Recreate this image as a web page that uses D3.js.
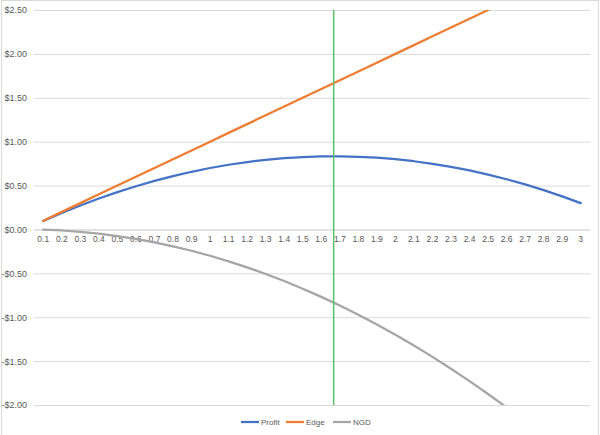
<!DOCTYPE html>
<html>
  <head>
    <meta http-equiv="Content-Type" content="text/html;charset=utf-8"/>
    <script src="https://d3js.org/d3.v7.min.js"></script>
    <style>
      body { margin: 0; background: #fff; }
      text { font-family: "Liberation Sans", Arial, sans-serif; fill: #595959; font-size: 9px; }
    </style>
  </head>
  <body>
    <script type="text/javascript">
        // x categories and series
        const categories = ['0.1','0.2','0.3','0.4','0.5','0.6','0.7','0.8','0.9','1',
                            '1.1','1.2','1.3','1.4','1.5','1.6','1.7','1.8','1.9','2',
                            '2.1','2.2','2.3','2.4','2.5','2.6','2.7','2.8','2.9','3']
        const profit = [0.097,0.188,0.273,0.352,0.425,0.492,0.553,0.608,0.657,0.700,
                        0.737,0.768,0.793,0.812,0.825,0.832,0.833,0.828,0.817,0.800,
                        0.777,0.748,0.713,0.672,0.625,0.572,0.513,0.448,0.377,0.300]
        const edge = [0.1,0.2,0.3,0.4,0.5,0.6,0.7,0.8,0.9,1.0,
                      1.1,1.2,1.3,1.4,1.5,1.6,1.7,1.8,1.9,2.0,
                      2.1,2.2,2.3,2.4,2.5,2.6,2.7,2.8,2.9,3.0]
        const ngd = [-0.003,-0.012,-0.027,-0.048,-0.075,-0.108,-0.147,-0.192,-0.243,-0.300,
                     -0.363,-0.432,-0.507,-0.588,-0.675,-0.768,-0.867,-0.972,-1.083,-1.200,
                     -1.323,-1.452,-1.587,-1.728,-1.875,-2.028,-2.187,-2.352,-2.523,-2.700]
        const yTicks = [2.5, 2, 1.5, 1, 0.5, 0, -0.5, -1, -1.5, -2]
        const markerX = 1.667   // position of the vertical green line (category units)

        const seriesNames = ['Profit', 'Edge', 'NGD']
        const seriesData = [profit, edge, ngd]
        const colors = ['#4472C4', '#ED7D31', '#A5A5A5']

        const width = 600,
              height = 435
        const plotL = 34, plotR = 590, plotT = 10, plotB = 405

        const svg = d3.select('body').append('svg')
            .attr('width', width)
            .attr('height', height)

        // outer frame
        svg.append('rect')
            .attr('x', 1.5).attr('y', 0.5)
            .attr('width', 597).attr('height', 440)
            .attr('fill', 'none')
            .attr('stroke', '#d9d9d9')

        const x = d3.scaleBand().domain(categories).range([plotL, plotR])
        const y = d3.scaleLinear().domain([-2, 2.5]).range([plotB, plotT])
        const xc = d => x(d) + x.bandwidth() / 2

        // gridlines + y labels
        const yAxis = svg.append('g')
            .attr('transform', 'translate(' + plotL + ',0)')
            .call(d3.axisLeft(y).tickValues(yTicks).tickSize(-(plotR - plotL)).tickPadding(7)
                .tickFormat(v => (v < 0 ? '-$' : '$') + Math.abs(v).toFixed(2)))
        yAxis.select('.domain').remove()
        yAxis.selectAll('line').attr('stroke', '#d9d9d9')
        yAxis.selectAll('text').style('font-size', '9px').attr('fill', '#6a6a6a')

        // category labels along zero line
        const xAxis = svg.append('g')
            .attr('transform', 'translate(0,' + y(0) + ')')
            .call(d3.axisBottom(x).tickSize(0).tickPadding(7))
        xAxis.select('.domain').attr('stroke', '#d9d9d9')
        xAxis.selectAll('text').style('font-size', '8.5px').attr('fill', '#6a6a6a')

        svg.append('clipPath').attr('id', 'plot')
            .append('rect')
            .attr('x', plotL).attr('y', plotT)
            .attr('width', plotR - plotL).attr('height', plotB - plotT)

        const line = d3.line()
            .x((d, i) => xc(categories[i]))
            .y(d => y(d))

        svg.append('g').attr('clip-path', 'url(#plot)')
            .selectAll('path')
            .data(seriesData)
            .join('path')
            .attr('d', line)
            .attr('fill', 'none')
            .attr('stroke', (d, i) => colors[i])
            .attr('stroke-width', 2.25)
            .attr('stroke-linejoin', 'round')
            .attr('stroke-linecap', 'round')

        // vertical marker between category 1.6 and 1.7
        const step = x.step()
        const mx = xc('0.1') + (markerX - 0.1) * 10 * step
        svg.append('line')
            .attr('x1', mx).attr('x2', mx)
            .attr('y1', plotT).attr('y2', plotB)
            .attr('stroke', '#5CBF6A')
            .attr('stroke-width', 1.5)

        // legend
        const legend = svg.append('g').attr('transform', 'translate(241,422)')
        const offsets = [0, 45, 92]
        seriesNames.forEach((name, i) => {
            const g = legend.append('g').attr('transform', 'translate(' + offsets[i] + ',0)')
            g.append('line')
                .attr('x1', 0).attr('x2', 18)
                .attr('stroke', colors[i]).attr('stroke-width', 2.25)
            g.append('text')
                .attr('x', 20).attr('y', 3)
                .style('font-size', '8px')
                .attr('fill', '#6a6a6a')
                .text(name)
        })
    </script>
  </body>
</html>
